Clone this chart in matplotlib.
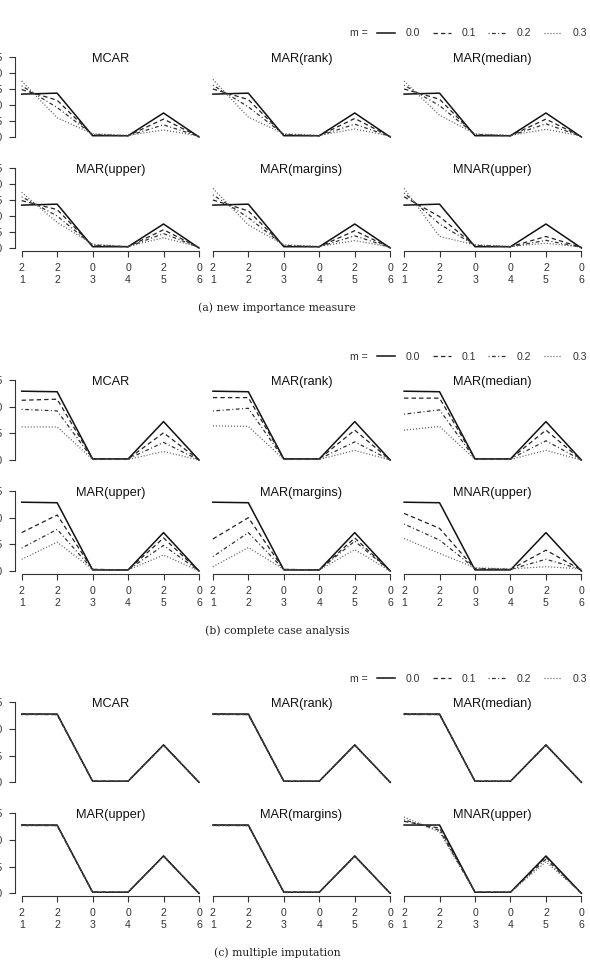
import numpy as np
import matplotlib
matplotlib.use("Agg")
import matplotlib.pyplot as plt
from matplotlib.lines import Line2D

plt.rcParams["font.family"] = ["Liberation Sans", "DejaVu Sans"]

panels = ["MCAR", "MAR(rank)", "MAR(median)", "MAR(upper)", "MAR(margins)", "MNAR(upper)"]
m_levels = ["0.0", "0.1", "0.2", "0.3"]
x_top = ["2", "2", "0", "0", "2", "0"]
x_bot = ["1", "2", "3", "4", "5", "6"]
captions = ["(a) new importance measure", "(b) complete case analysis", "(c) multiple imputation"]
y_max = [0.25, 0.15, 0.15]

# (a) new importance measure, one row per panel
a_m00 = [[0.134, 0.137, 0.004, 0.004, 0.075, 0.0]] * 6
a_m01 = [[0.148, 0.115, 0.006, 0.004, 0.056, 0.001],
         [0.150, 0.117, 0.006, 0.004, 0.058, 0.001],
         [0.150, 0.118, 0.006, 0.004, 0.056, 0.001],
         [0.148, 0.120, 0.007, 0.004, 0.057, 0.001],
         [0.150, 0.116, 0.006, 0.004, 0.054, 0.001],
         [0.160, 0.098, 0.007, 0.004, 0.036, 0.002]]
a_m02 = [[0.160, 0.092, 0.008, 0.004, 0.038, 0.002],
         [0.162, 0.094, 0.008, 0.004, 0.040, 0.002],
         [0.162, 0.098, 0.008, 0.004, 0.041, 0.002],
         [0.160, 0.100, 0.009, 0.004, 0.045, 0.002],
         [0.166, 0.095, 0.008, 0.004, 0.038, 0.002],
         [0.172, 0.075, 0.008, 0.004, 0.024, 0.002]]
a_m03 = [[0.175, 0.060, 0.010, 0.005, 0.022, 0.003],
         [0.180, 0.062, 0.010, 0.005, 0.025, 0.003],
         [0.175, 0.068, 0.010, 0.005, 0.024, 0.003],
         [0.174, 0.080, 0.012, 0.005, 0.032, 0.003],
         [0.186, 0.072, 0.010, 0.005, 0.023, 0.003],
         [0.186, 0.036, 0.010, 0.005, 0.015, 0.003]]

# (b) complete case analysis
b_m00 = [[0.129, 0.128, 0.002, 0.002, 0.072, 0.0]] * 6
b_m01 = [[0.112, 0.114, 0.002, 0.002, 0.051, 0.0],
         [0.117, 0.117, 0.002, 0.002, 0.056, 0.0],
         [0.116, 0.116, 0.002, 0.002, 0.056, 0.0],
         [0.072, 0.105, 0.003, 0.002, 0.062, 0.0],
         [0.060, 0.100, 0.003, 0.002, 0.062, 0.0],
         [0.108, 0.080, 0.004, 0.003, 0.039, 0.002]]
b_m02 = [[0.095, 0.092, 0.002, 0.002, 0.033, 0.0],
         [0.092, 0.097, 0.002, 0.002, 0.034, 0.0],
         [0.086, 0.094, 0.002, 0.002, 0.036, 0.0],
         [0.043, 0.078, 0.003, 0.002, 0.048, 0.0],
         [0.027, 0.072, 0.003, 0.002, 0.056, 0.0],
         [0.088, 0.058, 0.005, 0.003, 0.022, 0.003]]
b_m03 = [[0.062, 0.062, 0.001, 0.001, 0.016, 0.0],
         [0.064, 0.063, 0.001, 0.001, 0.018, 0.0],
         [0.056, 0.063, 0.001, 0.001, 0.018, 0.0],
         [0.022, 0.054, 0.003, 0.002, 0.030, 0.0],
         [0.008, 0.044, 0.003, 0.002, 0.040, 0.0],
         [0.061, 0.033, 0.006, 0.004, 0.008, 0.004]]

# (c) multiple imputation
c_m00 = [[0.128, 0.128, 0.002, 0.002, 0.070, 0.0]] * 6
c_m01 = [[0.128, 0.127, 0.002, 0.002, 0.070, 0.0]] * 5 + [[0.135, 0.122, 0.002, 0.002, 0.068, 0.0]]
c_m02 = [[0.127, 0.127, 0.002, 0.002, 0.070, 0.0]] * 5 + [[0.138, 0.118, 0.002, 0.002, 0.064, 0.0]]
c_m03 = [[0.127, 0.127, 0.002, 0.002, 0.069, 0.0]] * 5 + [[0.143, 0.115, 0.003, 0.002, 0.059, 0.001]]

sections = [[a_m00, a_m01, a_m02, a_m03],
            [b_m00, b_m01, b_m02, b_m03],
            [c_m00, c_m01, c_m02, c_m03]]

styles = [dict(ls="-", lw=1.1, color="#111"),
          dict(ls=(0, (3.5, 2.5)), lw=0.9, color="#222"),
          dict(ls=(0, (0.8, 2.0, 3.0, 2.0)), lw=0.9, color="#333"),
          dict(ls=(0, (0.8, 1.6)), lw=0.9, color="#555")]

W, H = 590, 960
fig = plt.figure(figsize=(W / 100, H / 100), dpi=100)

x = np.arange(1, 7)
xlabels = [t + "\n" + b for t, b in zip(x_top, x_bot)]
offsets = [0, 323, 645.3]

for s, series in enumerate(sections):
    off = offsets[s]
    R = y_max[s]
    for p in range(6):
        r, c = divmod(p, 3)
        left = 14.6 + 191.2 * c
        ytop = 57 + off + 111 * r - 3.2
        ax = fig.add_axes([left / W, 1 - (ytop + 86.4) / H, 191.5 / W, 86.4 / H])
        ax.patch.set_alpha(0)
        for m, vals in enumerate(series):
            ax.plot(x, vals[p], **styles[m])
        ax.set_xlim(0.8, 6.2)
        ax.set_ylim(-0.04 * R, 1.04 * R)
        ax.text(0.5, 0.94, panels[p], transform=ax.transAxes, ha="center", va="center",
                fontsize=9.2, color="#111")
        for side in ["top", "right"]:
            ax.spines[side].set_visible(False)
        ax.spines["left"].set_bounds(0, R)
        ax.spines["bottom"].set_bounds(1, 6)
        for side in ["left", "bottom"]:
            ax.spines[side].set_linewidth(0.8)
            ax.spines[side].set_color("#333")
        ax.tick_params(direction="out", length=4.3, width=0.8, color="#333",
                       labelsize=7.6, labelcolor="#333")
        ax.tick_params(axis="y", pad=4.0)
        ax.tick_params(axis="x", pad=4.0)
        ax.set_yticks(np.arange(0, R + 1e-9, 0.05))
        ax.set_yticklabels(["%.2f" % v for v in np.arange(0, R + 1e-9, 0.05)])
        ax.set_xticks(x)
        ax.set_xticklabels(xlabels, linespacing=1.3)
        if c != 0:
            ax.spines["left"].set_visible(False)
            ax.tick_params(axis="y", left=False, labelleft=False)
        if r != 1:
            ax.spines["bottom"].set_visible(False)
            ax.tick_params(axis="x", bottom=False, labelbottom=False)

    # legend row
    handles = [Line2D([], [], **st) for st in styles]
    fig.legend(handles, m_levels, ncol=4, frameon=False, fontsize=7.6,
               loc="center right", bbox_to_anchor=(587 / W, 1 - (33.5 + off) / H),
               handlelength=1.7, handletextpad=1.0, columnspacing=1.2,
               labelcolor="#333", borderpad=0, borderaxespad=0)
    fig.text(368 / W, 1 - (33.5 + off) / H, "m =", ha="right", va="center",
             fontsize=7.6, color="#333")
    fig.text(277 / W, 1 - (307.3 + off) / H, captions[s], ha="center", va="center",
             fontsize=7.8, family=["DejaVu Serif"], color="#222")

fig.savefig("out.png", dpi=100)
